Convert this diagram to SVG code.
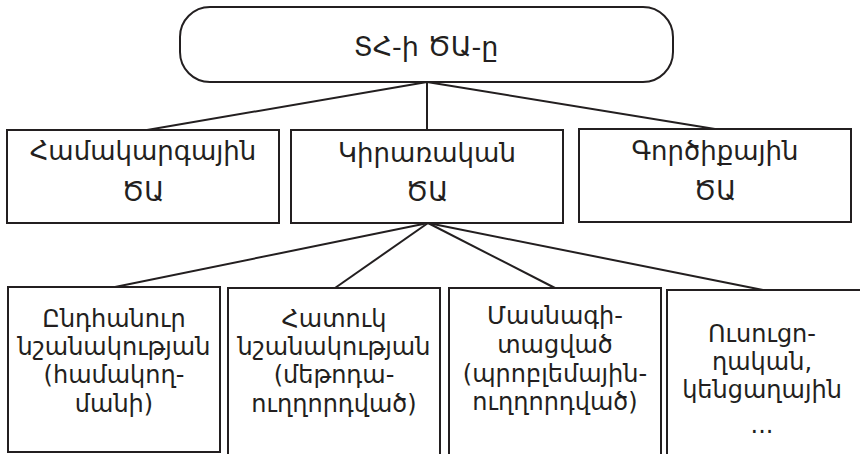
<svg xmlns="http://www.w3.org/2000/svg" width="860" height="454" viewBox="0 0 860 454">
<style>
.box{fill:#fff;stroke:#231f20;stroke-width:2}
.ln{stroke:#231f20;stroke-width:2;fill:none}
text{font-family:"DejaVu Sans","Noto Sans",sans-serif;fill:#231f20;text-anchor:middle}
.t0{font-size:27px}
.t1{font-size:26px}
.t2{font-size:24px}
</style>
<rect width="860" height="454" fill="#fff"/>
<g id="connectors">
<line class="ln" x1="427" y1="82" x2="147" y2="130"/>
<line class="ln" x1="427" y1="82" x2="427" y2="130"/>
<line class="ln" x1="427" y1="82" x2="715" y2="129"/>
<line class="ln" x1="428" y1="223" x2="115" y2="287"/>
<line class="ln" x1="428" y1="223" x2="335" y2="288"/>
<line class="ln" x1="428" y1="223" x2="555" y2="288"/>
<line class="ln" x1="428" y1="223" x2="763" y2="290"/>
</g>
<g id="root">
<rect class="box" x="180" y="7" width="493" height="75" rx="30"/>
<text class="t0" x="426" y="56">ՏՀ-ի ԾԱ-ը</text>
</g>
<g id="n1">
<rect class="box" x="7" y="130" width="272" height="93"/>
<text class="t1" x="143" y="160">Համակարգային</text>
<text class="t1" x="143" y="201">ԾԱ</text>
</g>
<g id="n2">
<rect class="box" x="291" y="130" width="272" height="93"/>
<text class="t1" x="427" y="162">Կիրառական</text>
<text class="t1" x="427" y="201">ԾԱ</text>
</g>
<g id="n3">
<rect class="box" x="579" y="129" width="272" height="93"/>
<text class="t1" x="715" y="160">Գործիքային</text>
<text class="t1" x="715" y="200">ԾԱ</text>
</g>
<g id="b1">
<rect class="box" x="8" y="287" width="212" height="165"/>
<text class="t2" x="114" y="327">Ընդհանուր</text>
<text class="t2" x="114" y="355">նշանակության</text>
<text class="t2" x="114" y="383">(համակող-</text>
<text class="t2" x="114" y="412">մանի)</text>
</g>
<g id="b2">
<rect class="box" x="228" y="288" width="212" height="170"/>
<text class="t2" x="334" y="327">Հատուկ</text>
<text class="t2" x="334" y="355">նշանակության</text>
<text class="t2" x="334" y="383">(մեթոդա-</text>
<text class="t2" x="334" y="412">ուղղորդված)</text>
</g>
<g id="b3">
<rect class="box" x="449" y="288" width="212" height="170"/>
<text class="t2" x="555" y="324">Մասնագի-</text>
<text class="t2" x="555" y="353">տացված</text>
<text class="t2" x="555" y="382">(պրոբլեմային-</text>
<text class="t2" x="555" y="410">ուղղորդված)</text>
</g>
<g id="b4">
<rect class="box" x="667" y="290" width="200" height="170"/>
<text class="t2" x="762" y="342">Ուսուցո-</text>
<text class="t2" x="762" y="370">ղական,</text>
<text class="t2" x="762" y="398">կենցաղային</text>
<text class="t2" x="762" y="433">...</text>
</g>
</svg>
